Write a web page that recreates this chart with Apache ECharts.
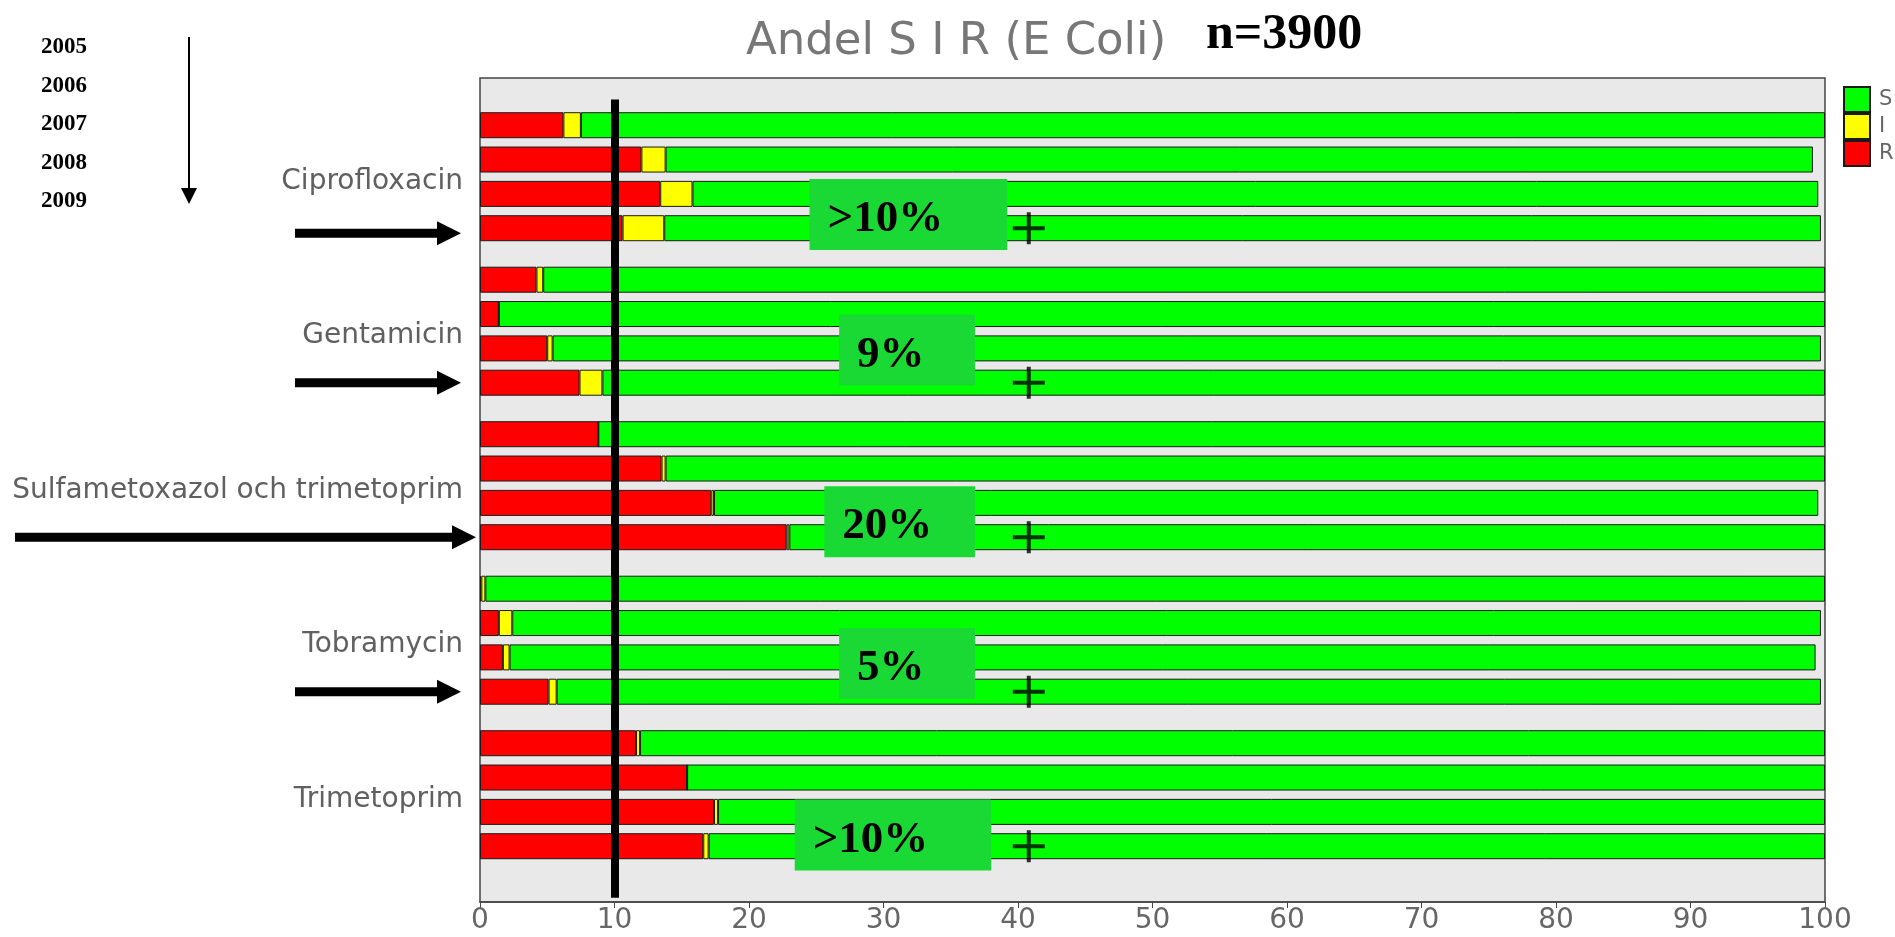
<!DOCTYPE html>
<html>
<head>
<meta charset="utf-8">
<title>Andel S I R (E Coli)</title>
<script src="https://cdn.jsdelivr.net/npm/echarts@6/dist/echarts.min.js"></script>
<style>
  html, body { margin: 0; padding: 0; background: #fff; }
  #main { width: 1895px; height: 937px; }
</style>
</head>
<body>
<div id="main"></div>
<script>
var drugs = ['Ciprofloxacin', 'Gentamicin', 'Sulfametoxazol och trimetoprim', 'Tobramycin', 'Trimetoprim']
var years = ['2005', '2006', '2007', '2008', '2009']
// share of isolates per drug, one value per bar (top to bottom), percent
var resistant = [
  [6.2, 12.0, 13.4, 10.6],
  [4.2, 1.4, 5.0, 7.4],
  [8.8, 13.5, 17.2, 22.8],
  [0.1, 1.4, 1.7, 5.1],
  [11.6, 15.4, 17.4, 16.6]
]
var intermediate = [
  [1.3, 1.8, 2.4, 3.1],
  [0.5, 0, 0.4, 1.7],
  [0, 0.3, 0.2, 0.2],
  [0.3, 1.0, 0.5, 0.6],
  [0.3, 0, 0.3, 0.4]
]
var susceptible = [
  [92.5, 85.3, 83.7, 86.0],
  [95.3, 98.6, 94.3, 90.9],
  [91.2, 86.2, 82.1, 77.0],
  [99.6, 97.3, 97.1, 94.0],
  [88.1, 84.6, 82.3, 83.0]
]
var breakpoint = 10
var boxLabels = ['>10%', '9%', '20%', '5%', '>10%']
var boxFrom = [24.5, 26.7, 25.6, 26.7, 23.4]
var boxTo = [39.2, 36.8, 36.8, 36.8, 38.0]
var plusAt = 40.8

// y axis is split in quarter bar slots so groups get a 1.5 bar gap
var slotCount = 96
function slotOf(g, k) { return 5 + g * 18 + k * 4 }
function labelSlot(g) { return 11 + g * 18 }

var slots = []
for (var i = 0; i < slotCount; i++) slots.push('')
drugs.forEach(function (d, g) { slots[labelSlot(g)] = d })

function toSlots(values) {
  var arr = []
  for (var i = 0; i < slotCount; i++) arr.push('-')
  values.forEach(function (row, g) {
    row.forEach(function (v, k) { arr[slotOf(g, k)] = v })
  })
  return arr
}

var plusData = drugs.map(function (d, g) { return [plusAt, slotOf(g, 3)] })

var sans = 'DejaVu Sans'
var border = '#1a1a1a'

function barSeries(name, color, values) {
  return {
    name: name,
    type: 'bar',
    stack: 'sir',
    barWidth: 26,
    itemStyle: { color: color, borderColor: border, borderWidth: 1 },
    data: toSlots(values)
  }
}

var chart = echarts.init(document.getElementById('main'))

var option = {
  animation: false,
  legend: {
    data: ['S', 'I', 'R'],
    orient: 'vertical',
    left: 1843,
    top: 86,
    padding: 0,
    itemGap: 0,
    itemWidth: 26,
    itemHeight: 25,
    icon: 'rect',
    selectedMode: false,
    textStyle: { fontFamily: sans, fontSize: 21, lineHeight: 20, color: '#666', padding: [0, 0, 0, 4] }
  },
  grid: {
    left: 480,
    right: 70,
    top: 78,
    bottom: 35,
    show: true,
    backgroundColor: '#e9e9e9',
    borderColor: '#444',
    borderWidth: 1.5,
    outerBoundsMode: 'none'
  },
  xAxis: {
    type: 'value',
    min: 0,
    max: 100,
    interval: 10,
    splitLine: { show: false },
    axisLine: { show: true, lineStyle: { color: '#444', width: 1.5 } },
    axisTick: { show: true, length: 6, lineStyle: { color: '#444' } },
    axisLabel: { fontFamily: sans, fontSize: 28, color: '#666', margin: 5 }
  },
  yAxis: {
    type: 'category',
    inverse: true,
    data: slots,
    axisLine: { show: false },
    axisTick: { show: false },
    // top aligned with a short line box drops the names a few pixels, as in the original
    axisLabel: { interval: 0, fontFamily: sans, fontSize: 28, color: '#606060', margin: 17, verticalAlign: 'top', lineHeight: 10 }
  },
  series: [
    barSeries('R', '#ff0000', resistant),
    barSeries('I', '#ffff00', intermediate),
    barSeries('S', '#00ff00', susceptible),
    {
      name: 'plus',
      type: 'scatter',
      symbol: 'path://M7,0H9V16H7ZM0,7H16V9H0Z',
      symbolSize: 32,
      itemStyle: { color: '#000' },
      silent: true,
      data: plusData,
      markLine: {
        silent: true,
        symbol: ['none', 'none'],
        label: { show: false },
        lineStyle: { color: '#000', width: 8, type: 'solid' },
        data: [[{ coord: [breakpoint, 2] }, { coord: [breakpoint, 95] }]]
      }
    }
  ]
}
chart.setOption(option)

// annotations drawn on top of the chart
function px(x, slot) { return chart.convertToPixel({ gridIndex: 0 }, [x, slot]) }
var band = px(0, 1)[1] - px(0, 0)[1]

var elements = []

elements.push({
  type: 'text', left: 746, top: 20, z: 100,
  style: { text: 'Andel S I R (E Coli)', font: '45px "DejaVu Sans"', fill: '#777' }
})
elements.push({
  type: 'text', left: 1206, top: 10, z: 100,
  style: { text: 'n=3900', font: 'bold 50px "Liberation Serif"', fill: '#000' }
})

years.forEach(function (y, i) {
  elements.push({
    type: 'text', left: 41, top: 36 + i * 38.4, z: 100,
    style: { text: y, font: 'bold 23px "Liberation Serif"', fill: '#000' }
  })
})
// thin arrow down beside the years
elements.push({ type: 'rect', shape: { x: 188, y: 37, width: 2, height: 153 }, style: { fill: '#000' }, z: 100 })
elements.push({ type: 'polygon', shape: { points: [[181, 188], [197, 188], [189, 204]] }, style: { fill: '#000' }, z: 100 })

// thick arrows pointing at the latest bar of the first four drugs
var arrowStart = [295, 295, 15, 295]
var arrowTip = [461, 461, 476, 461]
arrowStart.forEach(function (x0, g) {
  var y = px(0, slotOf(g, 3))[1] + (g === 0 ? 5 : 0)
  var tip = arrowTip[g]
  elements.push({ type: 'rect', shape: { x: x0, y: y - 4.5, width: tip - x0 - 22, height: 9 }, style: { fill: '#000' }, z: 100 })
  elements.push({ type: 'polygon', shape: { points: [[tip - 24, y - 12], [tip, y], [tip - 24, y + 12]] }, style: { fill: '#000' }, z: 100 })
})

// green boxes with the latest resistance level
var boxSlot = [15.4, 31.2, 51.2, 67.7, 87.7]
boxLabels.forEach(function (t, g) {
  var left = px(boxFrom[g], 0)[0]
  var right = px(boxTo[g], 0)[0]
  var cy = px(0, 0)[1] + boxSlot[g] * band
  elements.push({
    type: 'rect', z: 100,
    shape: { x: left, y: cy - 35.5, width: right - left, height: 71 },
    style: { fill: '#1bd934' }
  })
  elements.push({
    type: 'text', z: 101, x: left + 18, y: cy + 5,
    style: { text: t, font: 'bold 45px "Liberation Serif"', fill: '#000', verticalAlign: 'middle' }
  })
})

chart.setOption({ graphic: { elements: elements } })
</script>
</body>
</html>
